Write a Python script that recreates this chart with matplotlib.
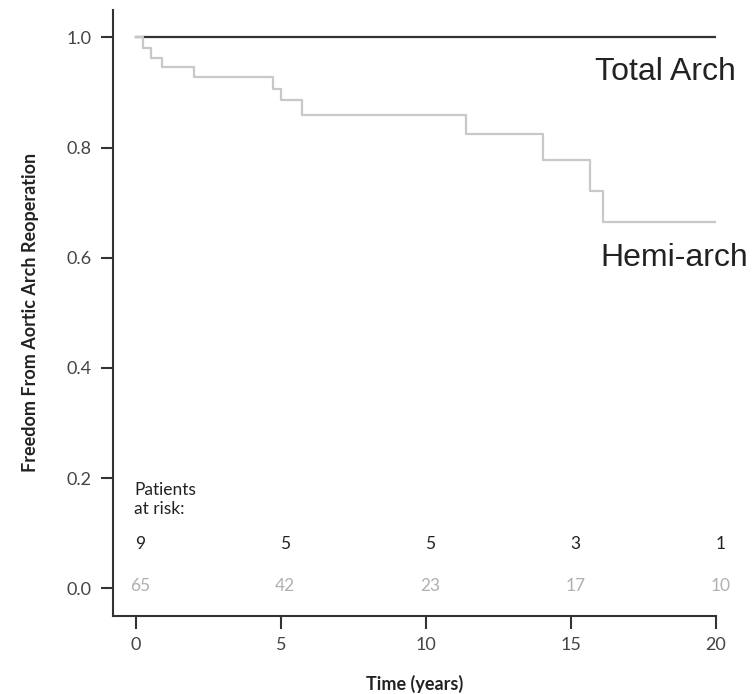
import numpy as np
import matplotlib.pyplot as plt

# Kaplan-Meier steps
hemi_t = [0, 0.25, 0.51, 0.91, 2.0, 4.73, 4.99, 5.73, 11.40, 14.04, 15.66, 16.11, 20.0]
hemi_s = [1.0, 0.981, 0.963, 0.946, 0.928, 0.907, 0.886, 0.860, 0.825, 0.777, 0.721, 0.664, 0.664]
total_t = [0, 20.0]
total_s = [1.0, 1.0]

risk_x = [0, 5, 10, 15, 20]
risk_total = [9, 5, 5, 3, 1]
risk_hemi = [65, 42, 23, 17, 10]

fig = plt.figure(figsize=(7.56, 6.94), dpi=100)
ax = fig.add_axes([0.149, 0.1128, 0.798, 0.873])

ax.step(total_t, total_s, where='post', color='#333333', lw=1.6, zorder=2)
ax.step(hemi_t, hemi_s, where='post', color='#c8c8c8', lw=1.6, zorder=3)

lab_font = dict(family='Liberation Sans', size=23, color='#222222')
ax.text(15.83, 0.938, 'Total Arch', va='center', ha='left', clip_on=False, **lab_font)
ax.text(16.0, 0.60, 'Hemi-arch', va='center', ha='left', clip_on=False, **lab_font)

small = dict(family='Lato', size=12.5)
ax.text(-0.05, 0.178, 'Patients', ha='left', va='center', color='#222222', **small)
ax.text(-0.05, 0.143, 'at risk:', ha='left', va='center', color='#222222', **small)
for x, a, b in zip(risk_x, risk_total, risk_hemi):
    ax.text(x + 0.15, 0.080, str(a), ha='center', va='center', color='#222222', **small)
    ax.text(x + 0.15, 0.004, str(b), ha='center', va='center', color='#b0b0b0', **small)

ax.set_xlim(-0.8, 20)
ax.set_ylim(-0.05, 1.05)
ax.set_xticks(risk_x)
ax.set_yticks([0.0, 0.2, 0.4, 0.6, 0.8, 1.0])
ax.set_yticklabels(['0.0', '0.2', '0.4', '0.6', '0.8', '1.0'])

for s in ['top', 'right']:
    ax.spines[s].set_visible(False)
for s in ['left', 'bottom']:
    ax.spines[s].set_color('#333333')
    ax.spines[s].set_linewidth(1.5)

ax.tick_params(axis='both', direction='out', length=9, width=1.5, color='#333333',
               labelsize=13, labelcolor='#444444', pad=6)
for lbl in ax.get_xticklabels() + ax.get_yticklabels():
    lbl.set_family('Lato')

ax.set_xlabel('Time (years)', family='Lato', fontsize=13, fontweight='bold',
              color='#222222', labelpad=16)
ax.set_ylabel('Freedom From Aortic Arch Reoperation', family='Lato', fontsize=13,
              fontweight='bold', color='#222222')
ax.yaxis.set_label_coords(-0.122, 0.5)

fig.savefig('out.png', dpi=100)
